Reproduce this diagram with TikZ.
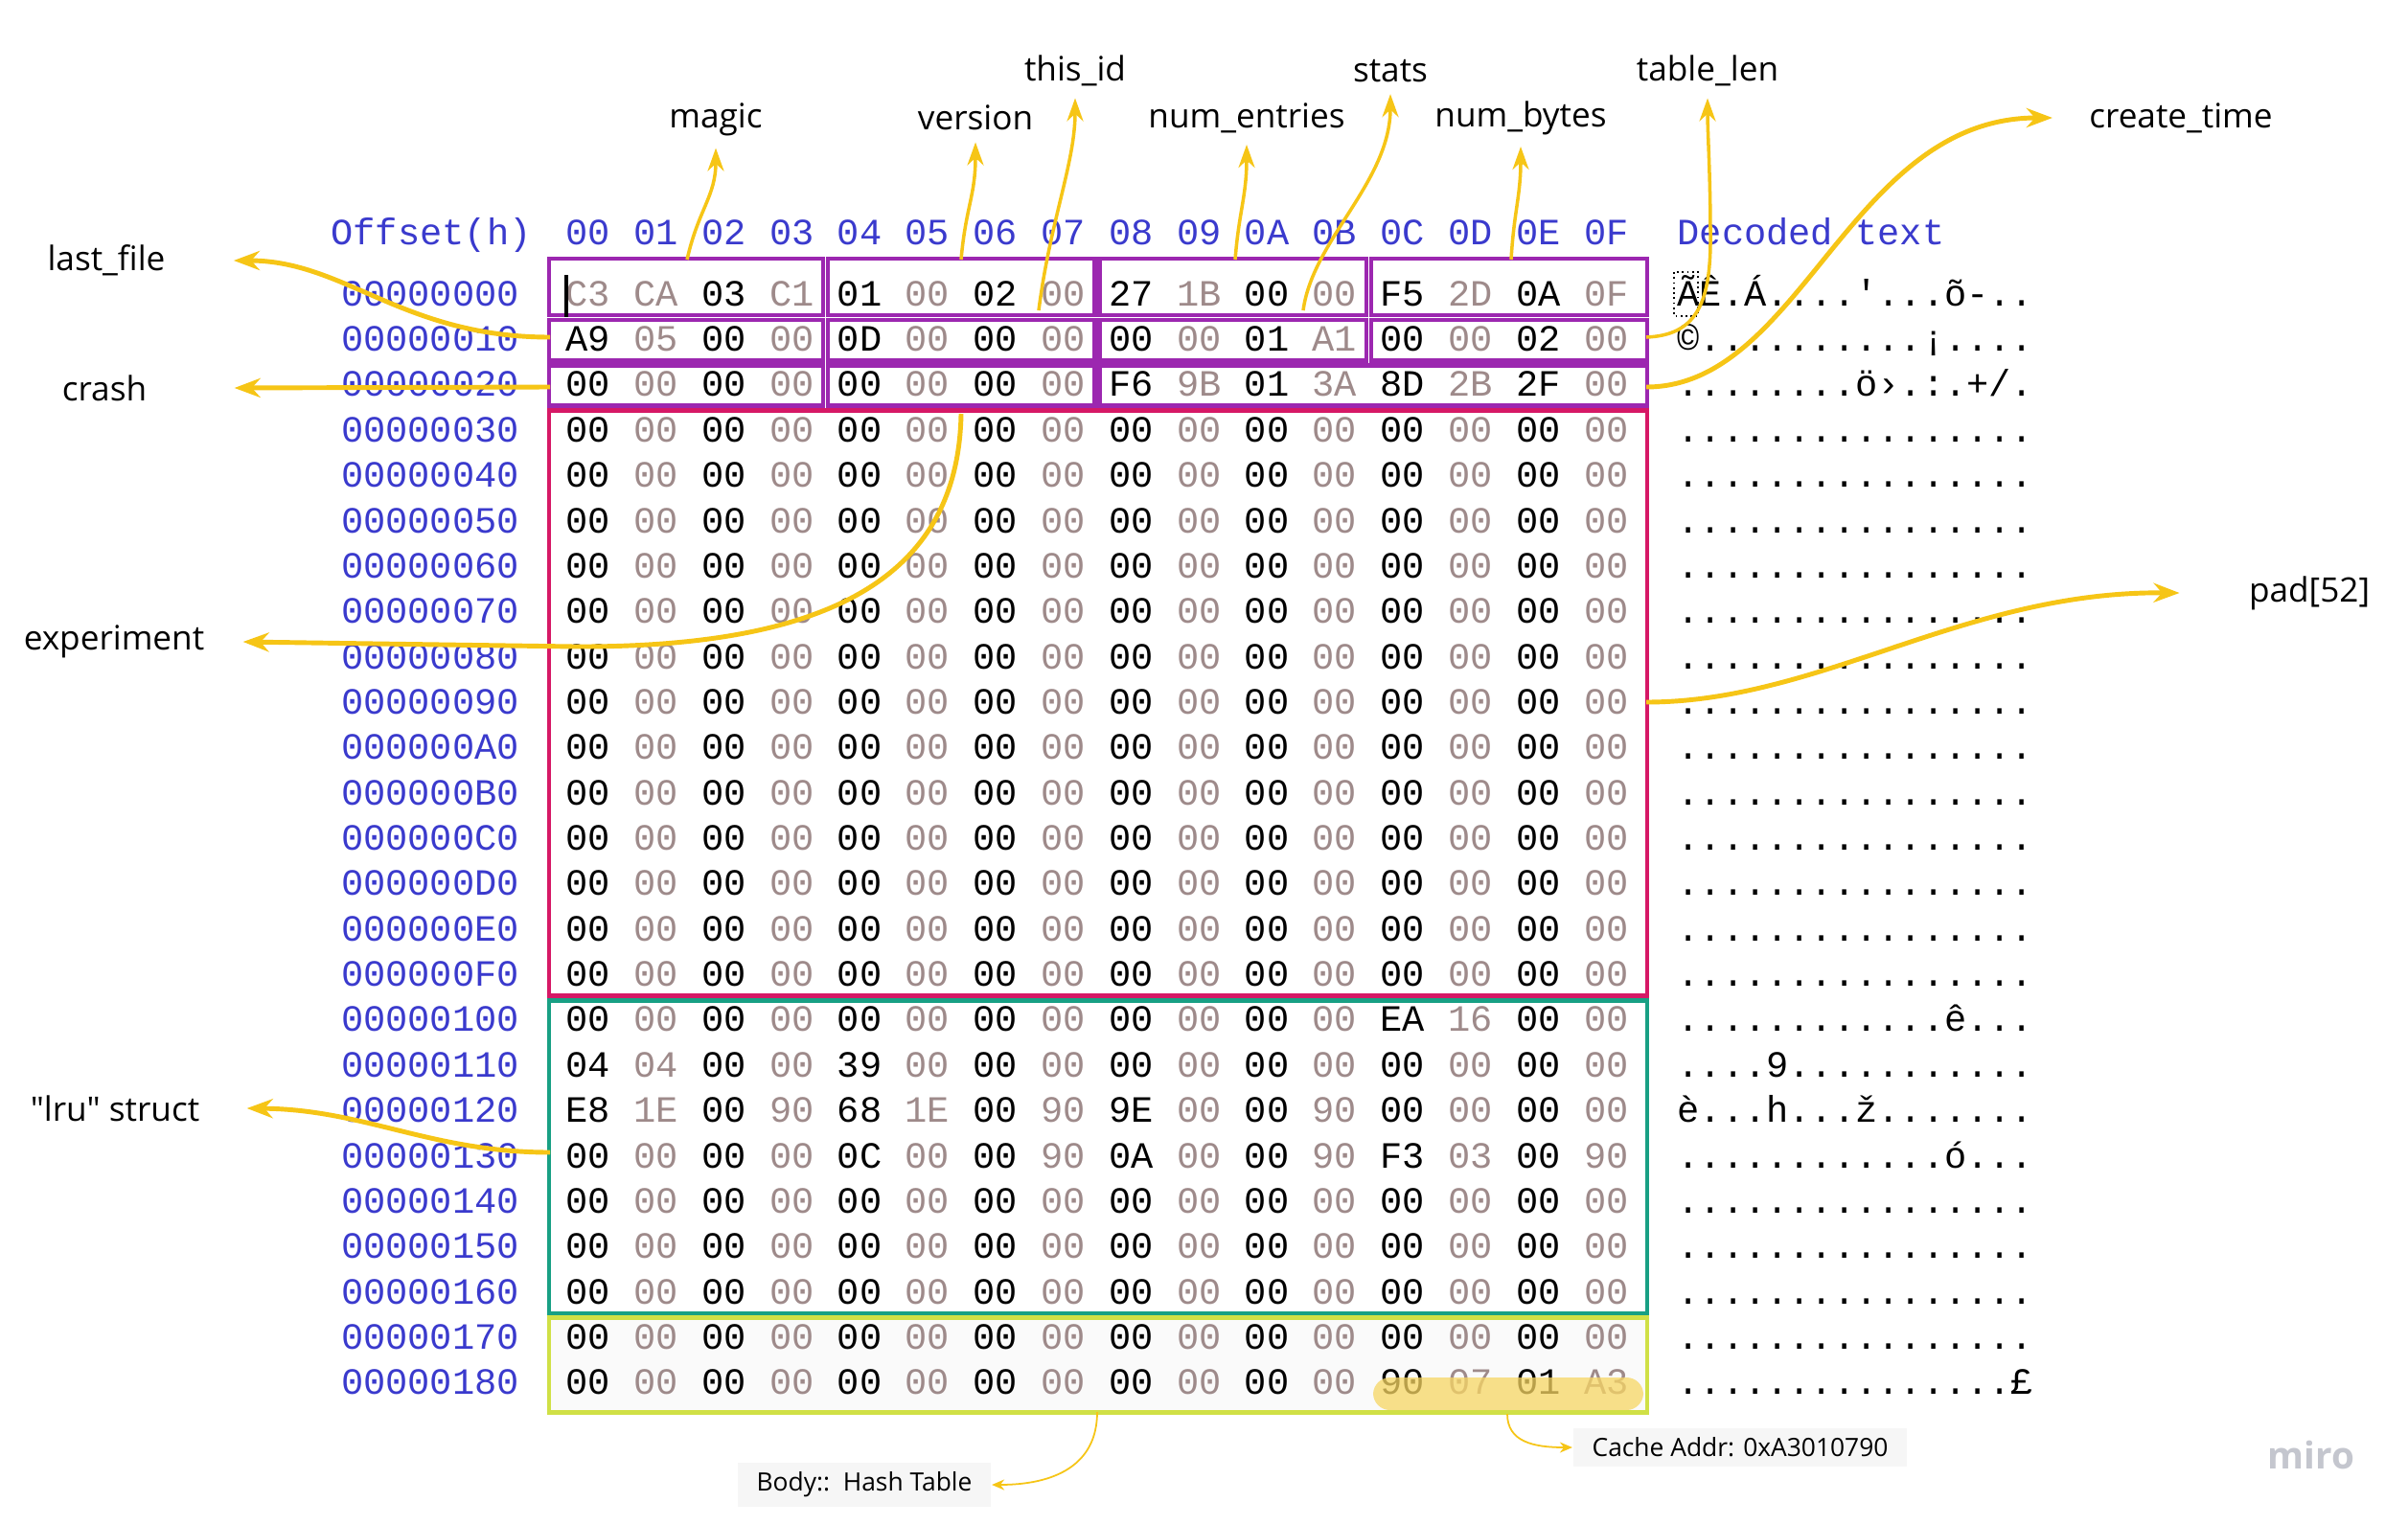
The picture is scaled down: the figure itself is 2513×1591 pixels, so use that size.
\documentclass[tikz,border=0pt]{standalone}
\usepackage{fontspec}
\setmainfont{Open Sans}
\newfontfamily\hexfont{Liberation Mono}
\usetikzlibrary{matrix,positioning,arrows.meta}

\definecolor{grppurple}{RGB}{156,39,176}
\definecolor{padpink}{RGB}{214,24,102}
\definecolor{lruteal}{RGB}{24,160,132}
\definecolor{bodylime}{RGB}{208,224,70}
\definecolor{arrowyellow}{RGB}{246,197,22}
\definecolor{offblue}{RGB}{58,58,205}
\definecolor{hexgray}{RGB}{158,138,138}
\definecolor{notebg}{RGB}{246,246,246}
\definecolor{hilite}{RGB}{247,214,100}
\definecolor{mirogray}{RGB}{196,198,206}

\tikzset{
  hexcell/.style={
    font=\hexfont\fontsize{11}{13}\selectfont,
    inner sep=0pt,
    minimum height=0.4733cm,
    text height=0.25cm,
    text depth=0.02cm,
  },
  hexgrid/.style={
    matrix of nodes,
    inner sep=0pt,
    row sep=0pt,
    column sep=0pt,
    nodes={hexcell,minimum width=0.708cm},
    every even column/.style={nodes={text=hexgray}},
  },
  hexhead/.style={
    matrix of nodes,
    inner sep=0pt,
    column sep=0pt,
    nodes={hexcell,minimum width=0.708cm,text=offblue},
  },
  sidecol/.style={
    matrix of nodes,
    inner sep=0pt,
    row sep=0pt,
    nodes={hexcell},
  },
  fieldlbl/.style={font=\fontsize{10}{12}\selectfont},
  notelbl/.style={font=\fontsize{7.5}{9}\selectfont,fill=notebg,
    inner xsep=0.2cm,inner ysep=0.1cm},
  fieldarrow/.style={arrowyellow,line width=1pt,
    -{Stealth[length=0.24cm,width=0.17cm]}},
  bigarrow/.style={arrowyellow,line width=1.4pt,
    -{Stealth[length=0.27cm,width=0.2cm]}},
  notearrow/.style={arrowyellow,line width=0.5pt,
    -{Stealth[length=0.13cm,width=0.11cm]}},
  fieldbox/.style={grppurple,line width=1.3pt},
  regionbox/.style={line width=1.3pt},
}

\begin{document}
\begin{tikzpicture}[x=0.01cm,y=-0.01cm]
  \path[use as bounding box,fill=white] (0,0) rectangle (2513,1591);
  % light fill behind the hash table rows
  \fill[black!2] (574,1370) rectangle (1718,1474);

  \matrix (hdr) [hexhead] at (1145,244) {
    00 & 01 & 02 & 03 & 04 & 05 & 06 & 07 & 08 & 09 & 0A & 0B & 0C & 0D & 0E & 0F\\
  };
  \node[hexcell,text=offblue] (offhdr) at (450,244) {Offset(h)};
  \node[hexcell,text=offblue,anchor=west] (dechdr) at (1750,244) {Decoded text};

  \matrix (hex) [hexgrid,row 1 column 1/.style={nodes={text=hexgray}}] at (1145,876) {
    C3 & CA & 03 & C1 & 01 & 00 & 02 & 00 & 27 & 1B & 00 & 00 & F5 & 2D & 0A & 0F\\
    A9 & 05 & 00 & 00 & 0D & 00 & 00 & 00 & 00 & 00 & 01 & A1 & 00 & 00 & 02 & 00\\
    00 & 00 & 00 & 00 & 00 & 00 & 00 & 00 & F6 & 9B & 01 & 3A & 8D & 2B & 2F & 00\\
    00 & 00 & 00 & 00 & 00 & 00 & 00 & 00 & 00 & 00 & 00 & 00 & 00 & 00 & 00 & 00\\
    00 & 00 & 00 & 00 & 00 & 00 & 00 & 00 & 00 & 00 & 00 & 00 & 00 & 00 & 00 & 00\\
    00 & 00 & 00 & 00 & 00 & 00 & 00 & 00 & 00 & 00 & 00 & 00 & 00 & 00 & 00 & 00\\
    00 & 00 & 00 & 00 & 00 & 00 & 00 & 00 & 00 & 00 & 00 & 00 & 00 & 00 & 00 & 00\\
    00 & 00 & 00 & 00 & 00 & 00 & 00 & 00 & 00 & 00 & 00 & 00 & 00 & 00 & 00 & 00\\
    00 & 00 & 00 & 00 & 00 & 00 & 00 & 00 & 00 & 00 & 00 & 00 & 00 & 00 & 00 & 00\\
    00 & 00 & 00 & 00 & 00 & 00 & 00 & 00 & 00 & 00 & 00 & 00 & 00 & 00 & 00 & 00\\
    00 & 00 & 00 & 00 & 00 & 00 & 00 & 00 & 00 & 00 & 00 & 00 & 00 & 00 & 00 & 00\\
    00 & 00 & 00 & 00 & 00 & 00 & 00 & 00 & 00 & 00 & 00 & 00 & 00 & 00 & 00 & 00\\
    00 & 00 & 00 & 00 & 00 & 00 & 00 & 00 & 00 & 00 & 00 & 00 & 00 & 00 & 00 & 00\\
    00 & 00 & 00 & 00 & 00 & 00 & 00 & 00 & 00 & 00 & 00 & 00 & 00 & 00 & 00 & 00\\
    00 & 00 & 00 & 00 & 00 & 00 & 00 & 00 & 00 & 00 & 00 & 00 & 00 & 00 & 00 & 00\\
    00 & 00 & 00 & 00 & 00 & 00 & 00 & 00 & 00 & 00 & 00 & 00 & 00 & 00 & 00 & 00\\
    00 & 00 & 00 & 00 & 00 & 00 & 00 & 00 & 00 & 00 & 00 & 00 & EA & 16 & 00 & 00\\
    04 & 04 & 00 & 00 & 39 & 00 & 00 & 00 & 00 & 00 & 00 & 00 & 00 & 00 & 00 & 00\\
    E8 & 1E & 00 & 90 & 68 & 1E & 00 & 90 & 9E & 00 & 00 & 90 & 00 & 00 & 00 & 00\\
    00 & 00 & 00 & 00 & 0C & 00 & 00 & 90 & 0A & 00 & 00 & 90 & F3 & 03 & 00 & 90\\
    00 & 00 & 00 & 00 & 00 & 00 & 00 & 00 & 00 & 00 & 00 & 00 & 00 & 00 & 00 & 00\\
    00 & 00 & 00 & 00 & 00 & 00 & 00 & 00 & 00 & 00 & 00 & 00 & 00 & 00 & 00 & 00\\
    00 & 00 & 00 & 00 & 00 & 00 & 00 & 00 & 00 & 00 & 00 & 00 & 00 & 00 & 00 & 00\\
    00 & 00 & 00 & 00 & 00 & 00 & 00 & 00 & 00 & 00 & 00 & 00 & 00 & 00 & 00 & 00\\
    00 & 00 & 00 & 00 & 00 & 00 & 00 & 00 & 00 & 00 & 00 & 00 & 90 & 07 & 01 & A3\\
  };

  \matrix (offs) [sidecol,nodes={text=offblue}] at (449,876) {
    00000000\\ 00000010\\ 00000020\\ 00000030\\ 00000040\\ 00000050\\ 00000060\\
    00000070\\ 00000080\\ 00000090\\ 000000A0\\ 000000B0\\ 000000C0\\ 000000D0\\
    000000E0\\ 000000F0\\ 00000100\\ 00000110\\ 00000120\\ 00000130\\ 00000140\\
    00000150\\ 00000160\\ 00000170\\ 00000180\\
  };

  \matrix (dec) [sidecol,anchor=west] at (1750,876) {
    ÃÊ.Á....'...õ-..\\ ©..........¡....\\ ........ö›.:.+/.\\
    ................\\ ................\\ ................\\ ................\\
    ................\\ ................\\ ................\\ ................\\
    ................\\ ................\\ ................\\ ................\\
    ................\\ ............ê...\\ ....9...........\\ è...h...ž.......\\
    ............ó...\\ ................\\ ................\\ ................\\
    ................\\ ...............£\\
  };

  % header fields
  \draw[fieldbox] ([shift={(-1.3pt,3.8pt)}]hex-1-1.north west) rectangle ([shift={(-.9pt,.9pt)}]hex-1-4.south east);
  \draw[fieldbox] ([shift={(.9pt,3.8pt)}]hex-1-5.north west) rectangle ([shift={(-.9pt,.9pt)}]hex-1-8.south east);
  \draw[fieldbox] ([shift={(.9pt,3.8pt)}]hex-1-9.north west) rectangle ([shift={(-.9pt,.9pt)}]hex-1-12.south east);
  \draw[fieldbox] ([shift={(.9pt,3.8pt)}]hex-1-13.north west) rectangle ([shift={(1.9pt,.9pt)}]hex-1-16.south east);
  \draw[fieldbox] ([shift={(-1.3pt,-.9pt)}]hex-2-1.north west) rectangle ([shift={(-.9pt,.9pt)}]hex-2-4.south east);
  \draw[fieldbox] ([shift={(.9pt,-.9pt)}]hex-2-5.north west) rectangle ([shift={(-.9pt,.9pt)}]hex-2-8.south east);
  \draw[fieldbox] ([shift={(.9pt,-.9pt)}]hex-2-9.north west) rectangle ([shift={(-.9pt,.9pt)}]hex-2-12.south east);
  \draw[fieldbox] ([shift={(.9pt,-.9pt)}]hex-2-13.north west) rectangle ([shift={(1.9pt,.9pt)}]hex-2-16.south east);
  \draw[fieldbox] ([shift={(-1.3pt,-.9pt)}]hex-3-1.north west) rectangle ([shift={(-.9pt,.9pt)}]hex-3-4.south east);
  \draw[fieldbox] ([shift={(.9pt,-.9pt)}]hex-3-5.north west) rectangle ([shift={(-.9pt,.9pt)}]hex-3-8.south east);
  \draw[fieldbox] ([shift={(.9pt,-.9pt)}]hex-3-9.north west) rectangle ([shift={(1.9pt,.9pt)}]hex-3-16.south east);

  % regions
  \draw[regionbox,padpink] ([shift={(-1.3pt,-.9pt)}]hex-4-1.north west) rectangle ([shift={(1.9pt,.9pt)}]hex-16-16.south east);
  \draw[regionbox,lruteal] ([shift={(-1.3pt,-.9pt)}]hex-17-1.north west) rectangle ([shift={(1.9pt,.9pt)}]hex-23-16.south east);
  \draw[regionbox,bodylime] ([shift={(-1.3pt,-.9pt)}]hex-24-1.north west) rectangle ([shift={(1.9pt,-1.6pt)}]hex-25-16.south east);

  \fill[hilite,opacity=.75,rounded corners=5pt] (1433,1438) rectangle (1715,1472);
  \draw[line width=1pt] (591,287) -- (591,331);
  \draw[densely dotted,line width=.5pt] (1747,284) rectangle (1772,330);

  % labels
  \node[fieldlbl] (magic) at (747,125) {magic};
  \node[fieldlbl] (version) at (1018,123) {version};
  \node[fieldlbl] (thisid) at (1122,74) {this\_id};
  \node[fieldlbl] (nument) at (1301,123) {num\_entries};
  \node[fieldlbl] (stats) at (1451,74) {stats};
  \node[fieldlbl] (numbytes) at (1587,123) {num\_bytes};
  \node[fieldlbl] (tablelen) at (1782,74) {table\_len};
  \node[fieldlbl] (ctime) at (2276,123) {create\_time};
  \node[fieldlbl] (lastfile) at (111,272) {last\_file};
  \node[fieldlbl] (crash) at (109,405) {crash};
  \node[fieldlbl] (exper) at (119,670) {experiment};
  \node[fieldlbl] (pad) at (2410,619) {pad[52]};
  \node[fieldlbl] (lru) at (120,1157) {\textquotedbl lru\textquotedbl{} struct};
  \node[notelbl] (body) at (902,1550) {Body::\ \ Hash Table};
  \node[notelbl] (cache) at (1816,1511) {Cache Addr: 0xA3010790};
  \node[font=\bfseries\fontsize{11}{13}\selectfont,text=mirogray] (miro) at (2412,1519) {miro};

  \coordinate (magic-src) at (717,271);
  \coordinate (version-src) at (1003,271);
  \coordinate (thisid-src) at (1084,324);
  \coordinate (nument-src) at (1289,271);
  \coordinate (stats-src) at (1360,324);
  \coordinate (numbytes-src) at (1577,271);
  \coordinate (tablelen-src) at (1718,352);
  \coordinate (ctime-src) at (1718,404);
  \coordinate (lastfile-src) at (574,352);
  \coordinate (crash-src) at (574,404);
  \coordinate (exper-src) at (1003,432);
  \coordinate (pad-src) at (1718,733);
  \coordinate (lru-src) at (574,1203);
  \coordinate (body-src) at (1145,1474);
  \coordinate (cache-src) at (1573,1476);

  \coordinate[right=0.59cm of lastfile] (lastfile-tip);
  \coordinate[right=0.79cm of crash] (crash-tip);
  \coordinate[right=0.28cm of exper] (exper-tip);
  \coordinate[right=0.37cm of lru] (lru-tip);
  \coordinate[left=0.26cm of ctime] (ctime-tip);
  \coordinate[left=0.6cm of pad] (pad-tip);

  \draw[fieldarrow] (magic-src) .. controls (729,218) and (747,205) .. (magic.south);
  \draw[fieldarrow] (version-src) .. controls (1008,215) and (1018,205) .. (version.south);
  \draw[fieldarrow] (thisid-src) .. controls (1096,230) and (1122,170) .. (thisid.south);
  \draw[fieldarrow] (nument-src) .. controls (1293,220) and (1301,205) .. (nument.south);
  \draw[fieldarrow] (stats-src) .. controls (1370,250) and (1451,190) .. (stats.south);
  \draw[fieldarrow] (numbytes-src) .. controls (1580,220) and (1587,205) .. (numbytes.south);
  \draw[fieldarrow] (tablelen-src) .. controls (1768,350) and (1785,320) .. (1785,250)
    .. controls (1785,180) and (1782,140) .. (tablelen.south);
  \draw[bigarrow] (ctime-src) .. controls (1880,404) and (1930,123) .. (ctime-tip);
  \draw[bigarrow] (lastfile-src) .. controls (420,352) and (360,272) .. (lastfile-tip);
  \draw[bigarrow] (crash-src) -- (crash-tip);
  \draw[bigarrow] (exper-src) .. controls (1000,600) and (870,676) .. (600,675) -- (exper-tip);
  \draw[bigarrow] (pad-src) .. controls (1900,733) and (2050,617) .. (pad-tip);
  \draw[bigarrow] (lru-src) .. controls (450,1203) and (380,1158) .. (lru-tip);
  \draw[notearrow] (body-src) .. controls (1145,1530) and (1100,1550) .. (body.east);
  \draw[notearrow] (cache-src) .. controls (1573,1505) and (1600,1511) .. (cache.west);
\end{tikzpicture}
\end{document}
